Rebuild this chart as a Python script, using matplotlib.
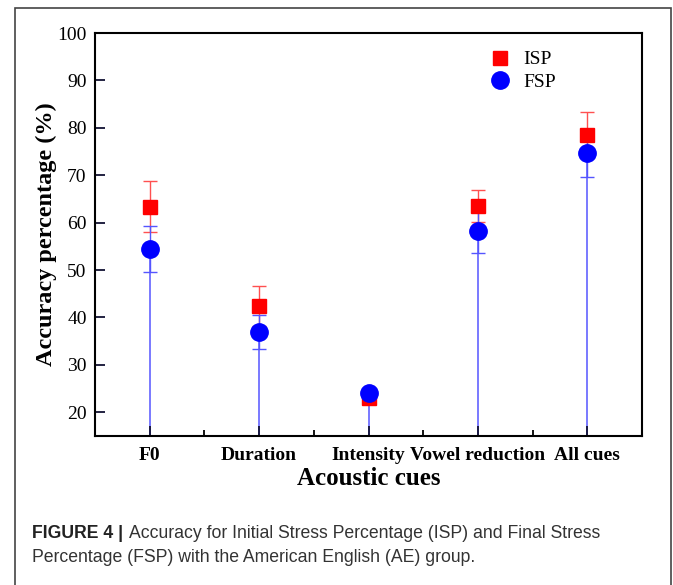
import numpy as np
import matplotlib.pyplot as plt
from matplotlib.patches import Rectangle

cues = ["F0", "Duration", "Intensity", "Vowel reduction", "All cues"]
isp = [63.4, 42.4, 23.0, 63.5, 78.5]
isp_err = [5.3, 4.3, 0.4, 3.4, 4.8]
fsp = [54.4, 37.0, 24.0, 58.2, 74.7]
fsp_err = [4.8, 3.6, 0.4, 4.5, 5.1]

serif = ["Liberation Serif", "DejaVu Serif"]

fig = plt.figure(figsize=(6.73, 5.85), dpi=100)
ax = fig.add_axes([95 / 673, 1 - 436 / 585, 547 / 673, 403 / 585])

x = np.arange(1, len(cues) + 1)
ymin = 15

# drop lines from FSP points to the x axis
ax.vlines(x, ymin, fsp, color="#5555ff", lw=1.1, zorder=1)

ax.errorbar(x, isp, yerr=isp_err, fmt="none", ecolor="#ff5050", elinewidth=1,
            capsize=5, capthick=1, zorder=2)
ax.errorbar(x, fsp, yerr=fsp_err, fmt="none", ecolor="#5555ff", elinewidth=1,
            capsize=5, capthick=1, zorder=2)
ax.plot(x, isp, "s", color="#ff0000", ms=10.5, mec="#ff0000", zorder=3, label="ISP")
ax.plot(x, fsp, "o", color="#0000ff", ms=12.5, mec="#0000ff", zorder=4, label="FSP")

ax.set_xlim(0.5, 5.5)
ax.set_ylim(ymin, 100)
ax.set_xticks(x)
ax.set_xticks(x[:-1] + 0.5, minor=True)
ax.set_xticklabels(cues, fontfamily=serif, fontweight="bold", fontsize=14)
ax.set_yticks(np.arange(20, 101, 10))
ax.set_yticklabels([str(v) for v in range(20, 101, 10)], fontfamily=serif, fontsize=14)
ax.tick_params(axis="both", which="major", direction="in", length=7, width=1.3,
               color="#111133", pad=8)
ax.tick_params(axis="x", which="minor", direction="in", length=4, width=1.3)
ax.tick_params(axis="y", which="major", pad=6)
for s in ax.spines.values():
    s.set_linewidth(1.5)

ax.set_ylabel("Accuracy percentage (%)", fontfamily=serif, fontweight="bold",
              fontsize=17.5, labelpad=0)
ax.set_xlabel("Acoustic cues", fontfamily=serif, fontweight="bold", fontsize=18,
              labelpad=2)

leg = ax.legend(loc="upper left", bbox_to_anchor=(0.69, 0.975), frameon=False,
                prop={"family": serif, "size": 14}, handletextpad=0.2,
                labelspacing=0.25, borderaxespad=0)

# outer frame and caption
fig.patches.append(Rectangle((15 / 673, -0.01), 656 / 673, 1 - 8 / 585 + 0.01,
                             transform=fig.transFigure, fill=False,
                             ec="#444444", lw=1.2))
fig.text(32 / 673, 1 - 533 / 585, "FIGURE 4 |", fontfamily="Liberation Sans",
         fontweight="bold", fontsize=12.7, color="#222222", va="center")
fig.text(129 / 673, 1 - 533 / 585,
         "Accuracy for Initial Stress Percentage (ISP) and Final Stress",
         fontfamily="Liberation Sans", fontsize=12.7, color="#333333", va="center")
fig.text(32 / 673, 1 - 557 / 585,
         "Percentage (FSP) with the American English (AE) group.",
         fontfamily="Liberation Sans", fontsize=12.7, color="#333333", va="center")

fig.savefig("out.png", dpi=100)
